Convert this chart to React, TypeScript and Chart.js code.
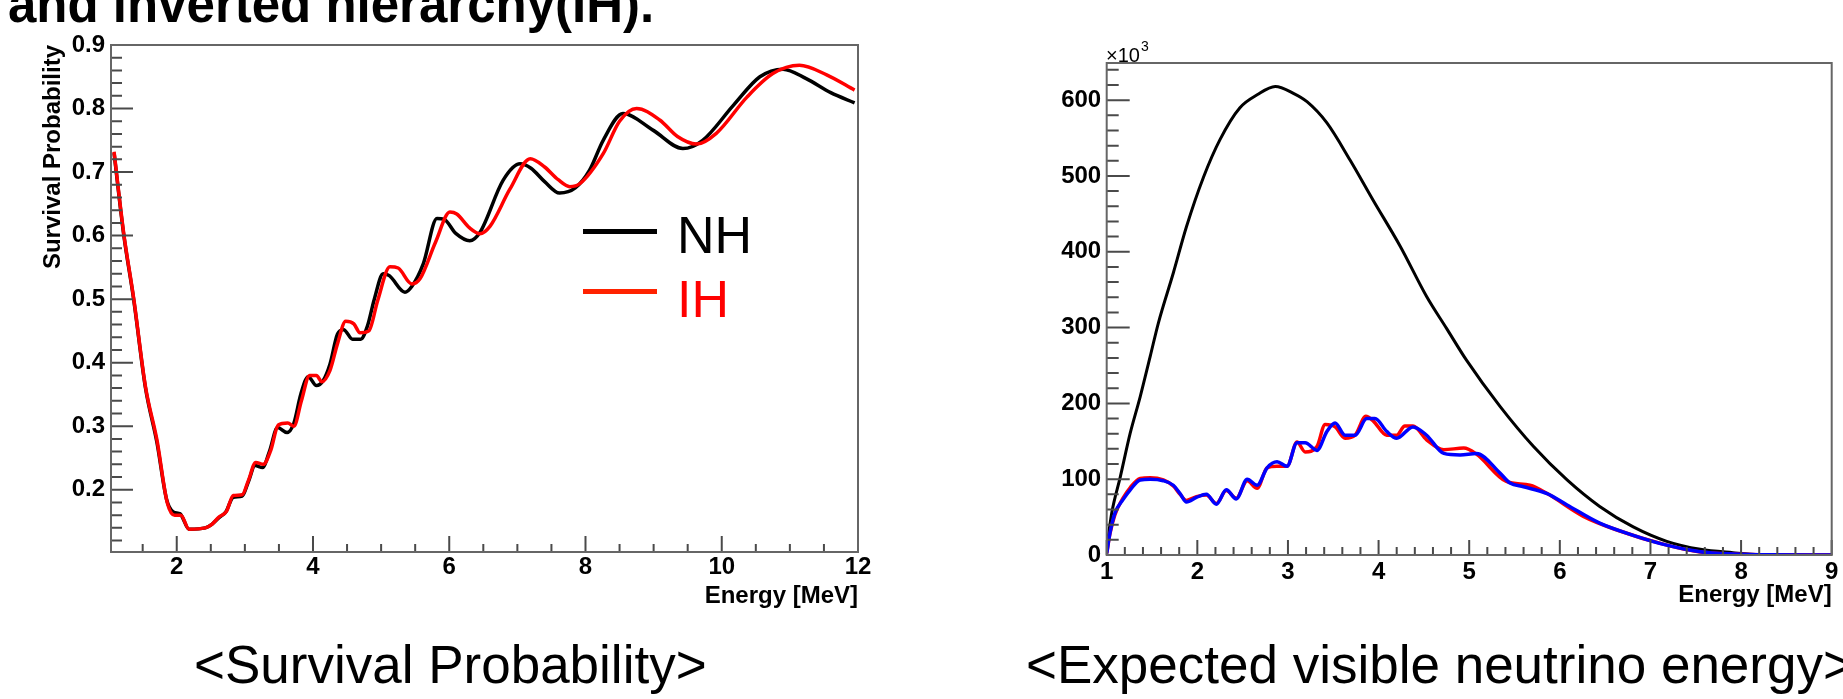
import React, { useEffect, useRef } from 'react';
import { Chart, registerables } from 'chart.js';

Chart.register(...registerables);

// ---------- Survival probability (left panel) ----------
const nhE = [1.08,1.22,1.37,1.54,1.71,1.85,1.95,2.05,2.18,2.42,2.52,2.62,2.72,2.83,2.96,3.05,3.15,3.26,3.36,3.48,3.62,3.72,3.82,3.93,4.05,4.15,4.25,4.36,4.45,4.58,4.70,4.80,4.90,5.03,5.12,5.35,5.45,5.62,5.82,5.92,6.10,6.30,6.45,6.79,7.04,7.20,7.40,7.62,7.85,8.06,8.26,8.55,8.99,9.43,9.72,10.17,10.56,10.90,11.24,11.60,11.95];
const nhP = [0.730,0.603,0.498,0.361,0.274,0.185,0.165,0.162,0.138,0.140,0.146,0.156,0.165,0.188,0.190,0.212,0.238,0.235,0.260,0.298,0.290,0.305,0.350,0.378,0.364,0.372,0.398,0.445,0.452,0.437,0.437,0.458,0.500,0.540,0.537,0.511,0.520,0.556,0.627,0.626,0.603,0.592,0.605,0.687,0.713,0.706,0.685,0.667,0.675,0.703,0.750,0.792,0.766,0.737,0.750,0.805,0.850,0.862,0.847,0.825,0.809];
const ihE = [1.08,1.22,1.37,1.54,1.71,1.86,1.97,2.06,2.18,2.42,2.52,2.62,2.73,2.83,2.96,3.05,3.16,3.27,3.38,3.49,3.63,3.72,3.83,3.95,4.05,4.13,4.25,4.36,4.48,4.60,4.69,4.82,4.95,5.13,5.25,5.45,5.57,5.80,6.01,6.11,6.30,6.45,6.60,6.89,7.19,7.40,7.60,7.77,7.92,8.26,8.50,8.75,9.09,9.35,9.63,9.92,10.37,10.75,11.14,11.54,11.95];
const ihP = [0.732,0.605,0.500,0.363,0.278,0.180,0.160,0.160,0.138,0.140,0.146,0.157,0.166,0.191,0.192,0.214,0.243,0.240,0.262,0.302,0.305,0.300,0.340,0.380,0.380,0.370,0.388,0.430,0.465,0.461,0.447,0.450,0.498,0.551,0.549,0.524,0.532,0.590,0.637,0.634,0.612,0.603,0.615,0.673,0.721,0.708,0.688,0.677,0.682,0.729,0.780,0.800,0.782,0.756,0.744,0.761,0.818,0.855,0.868,0.853,0.829];

const survXTicks = [2, 4, 6, 8, 10, 12];
const survYTicks = [0.2, 0.3, 0.4, 0.5, 0.6, 0.7, 0.8, 0.9];

// ---------- Visible energy spectrum (right panel), units of 10^3 ----------
const specBlackE = [1.00,1.055,1.15,1.26,1.37,1.48,1.57,1.735,1.88,2.07,2.25,2.47,2.66,2.86,3.06,3.21,3.43,3.685,3.94,4.24,4.53,4.75,4.97,5.34,5.71,6.08,6.44,6.81,7.18,7.55,7.91,8.20,9.00];
const specBlackY = [8,55,103,161,209,262,306,372,433,499,548,590,607,618,609,598,570,521,468,407,341,299,257,196,143,99,64,37,18,7.5,3,0.5,0];
const specRedE = [1.00,1.036,1.09,1.18,1.26,1.37,1.48,1.625,1.735,1.81,1.88,1.99,2.10,2.21,2.32,2.43,2.55,2.66,2.77,2.88,2.99,3.10,3.19,3.32,3.41,3.52,3.63,3.74,3.86,3.94,4.09,4.20,4.29,4.38,4.53,4.72,4.94,5.08,5.41,5.67,5.86,6.26,6.63,7.18,7.55,7.92,8.30,9.00];
const specRedY = [2,28,53,75,89,101,102,99,91,80,72,77,79,68,85,75,98,88,115,117,117,149,136,143,172,169,154,158,183,177,158,158,170,170,152,139,141,133,97,92,81,51,33,13,4,1.2,0.2,0];
const specBlueE = [1.00,1.036,1.09,1.18,1.26,1.37,1.48,1.625,1.735,1.81,1.88,1.99,2.10,2.21,2.32,2.43,2.55,2.66,2.77,2.88,2.99,3.10,3.19,3.32,3.43,3.52,3.63,3.74,3.87,3.96,4.09,4.20,4.38,4.53,4.72,4.90,5.08,5.34,5.45,5.60,5.86,6.08,6.44,6.81,7.18,7.55,7.92,8.30,9.00];
const specBlueY = [2,29,55,73,86,99,100,98,92,81,70,76,80,67,86,74,100,92,115,123,117,148,148,138,163,174,158,158,180,180,163,154,169,158,134,132,134,108,95,90,81,66,42,26,13,4.4,1.3,0.2,0];

const specXTicks = [1, 2, 3, 4, 5, 6, 7, 8, 9];
const specYTicks = [0, 100, 200, 300, 400, 500, 600];

const pts = (xs: number[], ys: number[]) => xs.map((x, i) => ({ x, y: ys[i] }));

const AX_FONT = { family: '"Liberation Sans", Arial, sans-serif', weight: 'bold' as const, size: 24, lineHeight: 1.2 };

// Frame + inward ROOT-style ticks
const frameTicks = {
  id: 'frameTicks',
  afterDatasetsDraw(chart: any, _args: any, o: any) {
    const { ctx, chartArea: a, scales } = chart;
    const x = scales.x, y = scales.y;
    ctx.save();
    ctx.strokeStyle = '#4a4a4a';
    ctx.lineWidth = 2;
    ctx.beginPath();
    const loop = (min: number, max: number, step: number, fn: (v: number) => void) => {
      for (let i = Math.ceil(min / step - 1e-9); i * step <= max + 1e-9; i++) fn(i * step);
    };
    loop(x.min, x.max, o.xMinor, (v) => {
      const isMajor = Math.abs(v / o.xMajor - Math.round(v / o.xMajor)) < 1e-6;
      const len = isMajor ? o.xMajorLen : o.xMinorLen;
      const px = x.getPixelForValue(v);
      ctx.moveTo(px, a.bottom);
      ctx.lineTo(px, a.bottom - len);
    });
    loop(y.min, y.max, o.yMinor, (v) => {
      const isMajor = Math.abs(v / o.yMajor - Math.round(v / o.yMajor)) < 1e-6;
      const len = isMajor ? o.yMajorLen : o.yMinorLen;
      const py = y.getPixelForValue(v);
      ctx.moveTo(a.left, py);
      ctx.lineTo(a.left + len, py);
    });
    ctx.stroke();
    ctx.lineWidth = 2;
    ctx.strokeStyle = '#666';
    ctx.strokeRect(a.left, a.top, a.right - a.left, a.bottom - a.top);
    ctx.restore();
  },
};

function survivalConfig(): any {
  return {
    type: 'line',
    data: {
      datasets: [
        { label: 'IH', data: pts(ihE, ihP), borderColor: '#ff0000', borderWidth: 3.5, pointRadius: 0, cubicInterpolationMode: 'monotone', order: 0 },
        { label: 'NH', data: pts(nhE, nhP), borderColor: '#000000', borderWidth: 3.5, pointRadius: 0, cubicInterpolationMode: 'monotone', order: 1 },
      ],
    },
    options: {
      responsive: false,
      animation: false,
      devicePixelRatio: 1,
      layout: { padding: { top: 45, right: 42, left: 0, bottom: 0 } },
      plugins: {
        legend: { display: false },
        tooltip: { enabled: false },
        frameTicks: { xMajor: 2, xMinor: 0.5, yMajor: 0.1, yMinor: 0.02, xMajorLen: 16, xMinorLen: 8, yMajorLen: 22, yMinorLen: 11 },
      },
      scales: {
        x: {
          type: 'linear', min: 1.035, max: 12,
          grid: { display: false, drawTicks: false }, border: { display: false },
          afterBuildTicks: (s: any) => { s.ticks = survXTicks.map((v) => ({ value: v })); },
          afterFit: (s: any) => { s.height = 88; },
          ticks: { font: AX_FONT, color: '#000', padding: 1, autoSkip: false, maxRotation: 0, minRotation: 0, callback: (v: any) => String(v) },
          title: { display: true, text: 'Energy [MeV]', align: 'end', color: '#000', font: AX_FONT, padding: { top: 0, bottom: 29.6 } },
        },
        y: {
          type: 'linear', min: 0.102, max: 0.9,
          grid: { display: false, drawTicks: false }, border: { display: false },
          afterBuildTicks: (s: any) => { s.ticks = survYTicks.map((v) => ({ value: v })); },
          afterFit: (s: any) => { s.width = 111; },
          ticks: { font: AX_FONT, color: '#000', padding: 6, autoSkip: false, callback: (v: any) => Number(v).toFixed(1) },
          title: { display: true, text: 'Survival Probability', align: 'end', color: '#000', font: AX_FONT, padding: { top: 39, bottom: 0 } },
        },
      },
    },
    plugins: [frameTicks],
  };
}

function spectrumConfig(): any {
  return {
    type: 'line',
    data: {
      datasets: [
        { label: 'blue', data: pts(specBlueE, specBlueY), borderColor: '#0000ff', borderWidth: 3.5, pointRadius: 0, cubicInterpolationMode: 'monotone', order: 0 },
        { label: 'red', data: pts(specRedE, specRedY), borderColor: '#ff0000', borderWidth: 3.5, pointRadius: 0, cubicInterpolationMode: 'monotone', order: 1 },
        { label: 'no oscillation', data: pts(specBlackE, specBlackY), borderColor: '#000000', borderWidth: 3, pointRadius: 0, cubicInterpolationMode: 'monotone', order: 2 },
      ],
    },
    options: {
      responsive: false,
      animation: false,
      devicePixelRatio: 1,
      layout: { padding: { top: 63, right: 11.3, left: 0, bottom: 0 } },
      plugins: {
        legend: { display: false },
        tooltip: { enabled: false },
        frameTicks: { xMajor: 1, xMinor: 0.2, yMajor: 100, yMinor: 20, xMajorLen: 15, xMinorLen: 8, yMajorLen: 23, yMinorLen: 12 },
      },
      scales: {
        x: {
          type: 'linear', min: 1, max: 9,
          grid: { display: false, drawTicks: false }, border: { display: false },
          afterBuildTicks: (s: any) => { s.ticks = specXTicks.map((v) => ({ value: v })); },
          afterFit: (s: any) => { s.height = 85; },
          ticks: { font: AX_FONT, color: '#000', padding: 2.6, autoSkip: false, maxRotation: 0, minRotation: 0, callback: (v: any) => String(v) },
          title: { display: true, text: 'Energy [MeV]', align: 'end', color: '#000', font: AX_FONT, padding: { top: 0, bottom: 30.6 } },
        },
        y: {
          type: 'linear', min: 0, max: 649,
          grid: { display: false, drawTicks: false }, border: { display: false },
          afterBuildTicks: (s: any) => { s.ticks = specYTicks.map((v) => ({ value: v })); },
          afterFit: (s: any) => { s.width = 146.7; },
          ticks: { font: AX_FONT, color: '#000', padding: 5.5, autoSkip: false, callback: (v: any) => String(v) },
        },
      },
    },
    plugins: [frameTicks],
  };
}

function ChartCanvas(props: { left: number; top: number; width: number; height: number; make: () => any }) {
  const ref = useRef<HTMLCanvasElement | null>(null);
  useEffect(() => {
    const chart = new Chart(ref.current as HTMLCanvasElement, props.make());
    return () => chart.destroy();
  }, []);
  return (
    <canvas
      ref={ref}
      width={props.width}
      height={props.height}
      style={{ position: 'absolute', left: props.left, top: props.top, width: props.width, height: props.height }}
    />
  );
}

const abs = (left: number, top: number, extra: any = {}) => ({
  position: 'absolute' as const, left, top, whiteSpace: 'nowrap' as const, ...extra,
});

export default function App() {
  return (
    <div style={{ position: 'fixed', left: 0, top: 0, width: 1843, height: 699, overflow: 'hidden', background: '#fff' }}>
      <ChartCanvas left={0} top={0} width={900} height={640} make={survivalConfig} />
      <ChartCanvas left={960} top={0} width={883} height={640} make={spectrumConfig} />

      <div style={abs(8, -21, { font: 'bold 51px "Liberation Sans", Arial, sans-serif', lineHeight: '51px', color: '#000' })}>
        and inverted hierarchy(IH).
      </div>

      {/* legend */}
      <div style={abs(583, 228.5, { width: 74, height: 5, background: '#000' })} />
      <div style={abs(583, 288.5, { width: 74, height: 5, background: '#ff2200' })} />
      <div style={abs(677, 209, { font: '52px "Liberation Sans", Arial, sans-serif', lineHeight: '52px', color: '#000' })}>NH</div>
      <div style={abs(677, 273, { font: '52px "Liberation Sans", Arial, sans-serif', lineHeight: '52px', color: '#ff0000' })}>IH</div>

      {/* x10^3 */}
      <div style={abs(1106, 45, { font: '20px "Liberation Sans", Arial, sans-serif', lineHeight: '20px', color: '#000' })}>×10</div>
      <div style={abs(1141, 39, { font: '14px "Liberation Sans", Arial, sans-serif', lineHeight: '14px', color: '#000' })}>3</div>

      {/* captions */}
      <div style={abs(194, 638, { font: '53px "Liberation Sans", Arial, sans-serif', lineHeight: '53px', color: '#000' })}>
        &lt;Survival Probability&gt;
      </div>
      <div style={abs(1026, 638, { font: '53px "Liberation Sans", Arial, sans-serif', lineHeight: '53px', color: '#000' })}>
        &lt;Expected visible neutrino energy&gt;
      </div>
    </div>
  );
}
